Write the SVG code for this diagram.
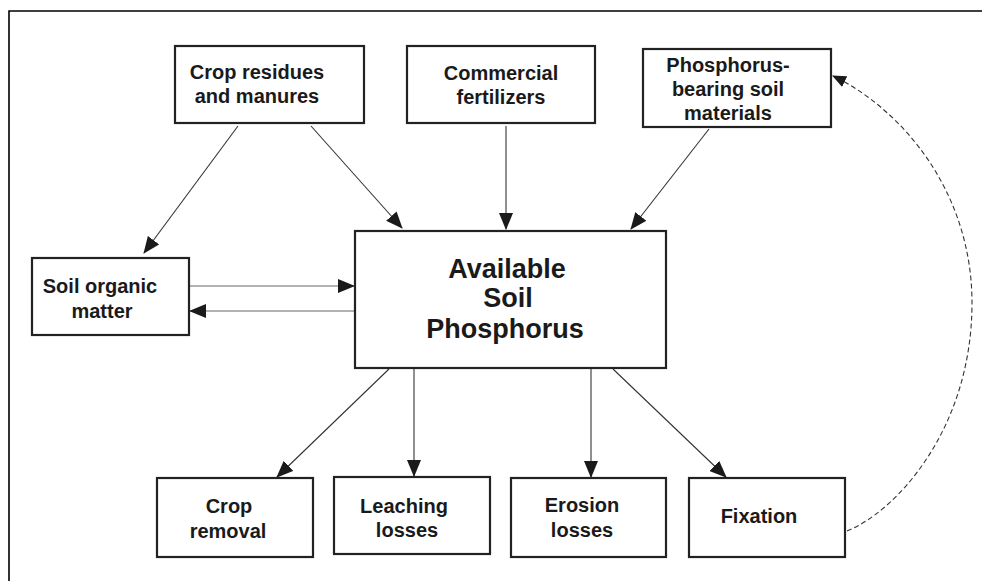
<svg xmlns="http://www.w3.org/2000/svg" width="982" height="581" viewBox="0 0 982 581">
<defs>
<marker id="ah" markerUnits="userSpaceOnUse" markerWidth="17" markerHeight="14" refX="16" refY="7" orient="auto">
<path d="M0,0 L17,7 L0,14 z" fill="#1a1a1a"/>
</marker>
<marker id="ahs" markerUnits="userSpaceOnUse" markerWidth="14" markerHeight="12" refX="13" refY="6" orient="auto">
<path d="M0,0 L14,6 L0,12 z" fill="#1a1a1a"/>
</marker>
</defs>
<style>
.box{fill:#fff;stroke:#222;stroke-width:2.2}
.t{font-family:"Liberation Sans",Arial,sans-serif;font-weight:bold;font-size:20px;fill:#1a1a1a;text-anchor:middle}
.big{font-size:27px}
.c{fill:none;stroke:#333;stroke-width:1.1}
.g{fill:none;stroke:#999;stroke-width:1.4}
.d{fill:none;stroke:#333;stroke-width:1.1;stroke-dasharray:5 3}
</style>
<rect width="982" height="581" fill="#fff"/>
<path d="M9,581 L9,11 L982,11" fill="none" stroke="#000" stroke-width="1.6"/>

<g id="connectors">
<line class="c" x1="238" y1="126" x2="144" y2="253" marker-end="url(#ah)"/>
<line class="c" x1="311" y1="126" x2="402" y2="228" marker-end="url(#ah)"/>
<line class="c" x1="506" y1="126" x2="506" y2="229" marker-end="url(#ah)"/>
<line class="c" x1="709" y1="129" x2="631" y2="229" marker-end="url(#ah)"/>
<line class="g" x1="190" y1="286" x2="354" y2="286" marker-end="url(#ah)"/>
<line class="g" x1="354" y1="311" x2="190" y2="311" marker-end="url(#ah)"/>
<line class="c" x1="389" y1="369" x2="277" y2="477" marker-end="url(#ah)"/>
<line class="c" x1="414" y1="369" x2="414" y2="476" marker-end="url(#ah)"/>
<line class="c" x1="591" y1="369" x2="591" y2="477" marker-end="url(#ah)"/>
<line class="c" x1="613" y1="369" x2="726" y2="477" marker-end="url(#ah)"/>
<path class="d" d="M847,531 C895,512 972,430 972,303 C972,190 900,108 833,76" marker-end="url(#ahs)"/>
</g>

<g id="crop-residues">
<rect class="box" x="175" y="46" width="189" height="77"/>
<text class="t" x="257" y="79">Crop residues</text>
<text class="t" x="257" y="103">and manures</text>
</g>
<g id="commercial-fertilizers">
<rect class="box" x="407" y="46" width="188" height="77"/>
<text class="t" x="501" y="80">Commercial</text>
<text class="t" x="501" y="104">fertilizers</text>
</g>
<g id="phosphorus-bearing">
<rect class="box" x="643" y="49" width="188" height="78"/>
<text class="t" x="728" y="72">Phosphorus-</text>
<text class="t" x="728" y="96">bearing soil</text>
<text class="t" x="728" y="120">materials</text>
</g>
<g id="soil-organic-matter">
<rect class="box" x="32" y="258" width="157" height="77"/>
<text class="t" x="100" y="293">Soil organic</text>
<text class="t" x="102" y="318">matter</text>
</g>
<g id="available-soil-phosphorus">
<rect class="box" x="355" y="231" width="311" height="137"/>
<text class="t big" x="507" y="278">Available</text>
<text class="t big" x="508" y="307">Soil</text>
<text class="t big" x="505" y="338">Phosphorus</text>
</g>
<g id="crop-removal">
<rect class="box" x="157" y="478" width="156" height="79"/>
<text class="t" x="229" y="513">Crop</text>
<text class="t" x="228" y="538">removal</text>
</g>
<g id="leaching-losses">
<rect class="box" x="334" y="477" width="156" height="77"/>
<text class="t" x="404" y="513">Leaching</text>
<text class="t" x="407" y="537">losses</text>
</g>
<g id="erosion-losses">
<rect class="box" x="511" y="478" width="155" height="79"/>
<text class="t" x="582" y="512">Erosion</text>
<text class="t" x="582" y="537">losses</text>
</g>
<g id="fixation">
<rect class="box" x="689" y="478" width="156" height="79"/>
<text class="t" x="759" y="523">Fixation</text>
</g>
</svg>
